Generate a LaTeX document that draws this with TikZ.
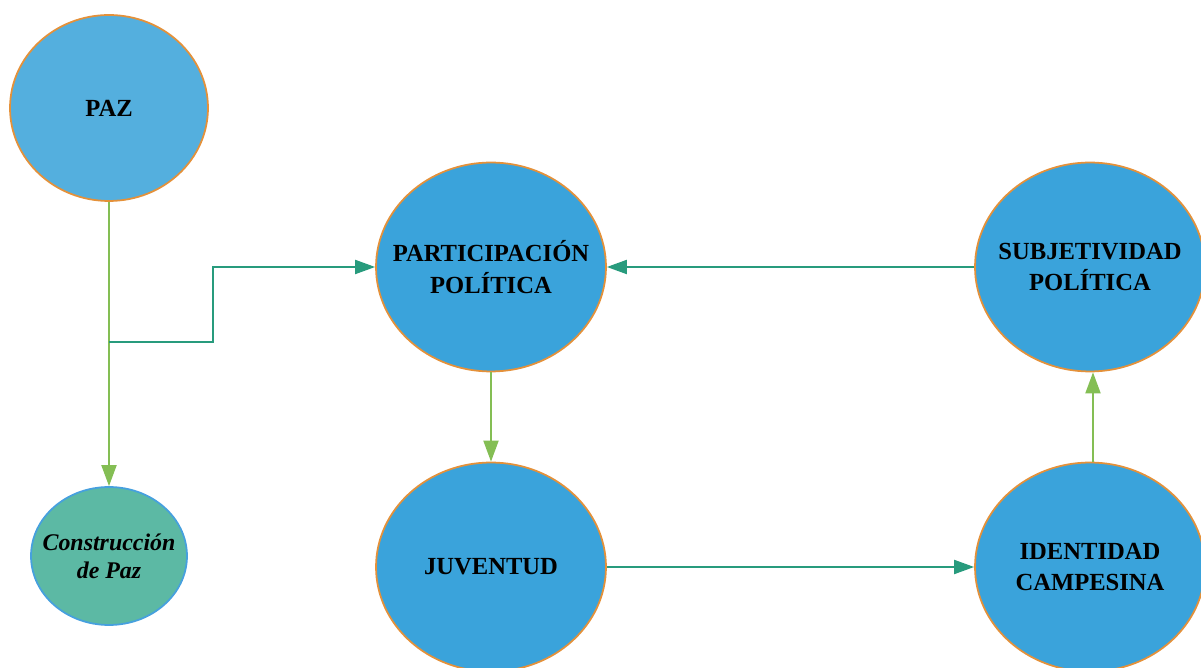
\documentclass[tikz,border=0pt]{standalone}
\usepackage{fontspec}
\setmainfont{Liberation Serif}
\usepackage{tikz}
\usetikzlibrary{shapes.geometric,arrows.meta}
\definecolor{pazblue}{RGB}{84,175,222}
\definecolor{nodeblue}{RGB}{58,163,219}
\definecolor{rimorange}{RGB}{228,145,58}
\definecolor{pazteal}{RGB}{92,185,164}
\definecolor{rimblue}{RGB}{70,160,222}
\definecolor{linegreen}{RGB}{132,190,84}
\definecolor{lineteal}{RGB}{40,155,125}
\begin{document}
\begin{tikzpicture}[
    x=0.02cm, y=-0.02cm,
    concept/.style={ellipse, draw=rimorange, line width=1pt, fill=nodeblue, inner sep=-0.8cm, minimum width=4.6cm, minimum height=4.18cm, align=center, font=\fontsize{14}{18}\selectfont\bfseries},
    smallconcept/.style={ellipse, draw=rimblue, line width=1pt, fill=pazteal, inner sep=-0.8cm, minimum width=3.12cm, minimum height=2.76cm, align=center, font=\fontsize{13.6}{16}\selectfont\bfseries\itshape},
    greenarrow/.style={-{Triangle[length=0.42cm, width=0.3cm]}, line width=1.1pt, linegreen},
    tealarrow/.style={-{Triangle[length=0.4cm, width=0.28cm]}, line width=1.1pt, lineteal}
]
    \useasboundingbox (0,0) rectangle (1201,668);

    % Left column
    \node[concept, fill=pazblue, minimum width=3.96cm, minimum height=3.72cm] (paz) at (109,108) {PAZ};
    \node[smallconcept] (construccion) at (109,556) {Construcción\\de Paz};

    % Main cycle
    \node[concept] (participacion) at (491,267) {PARTICIPACIÓN\\POLÍTICA};
    \node[concept] (juventud) at (491,567) {JUVENTUD};
    \node[concept] (identidad) at (1090,567) {IDENTIDAD\\CAMPESINA};
    \node[concept] (subjetividad) at (1090,267) {SUBJETIVIDAD\\POLÍTICA};

    % Branch point
    \coordinate (branch) at (109,342);

    % Arrows
    \draw[greenarrow] (paz) -- (construccion);
    \draw[tealarrow] (branch) -- (213,342) |- (participacion.west);
    \draw[tealarrow] (subjetividad.west) -- (participacion.east);
    \draw[greenarrow] (participacion) -- (juventud);
    \draw[tealarrow] (juventud.east) -- (identidad.west);
    \draw[greenarrow] ([xshift=0.06cm]identidad.north) -- ([xshift=0.06cm]subjetividad.south);

\end{tikzpicture}
\end{document}
